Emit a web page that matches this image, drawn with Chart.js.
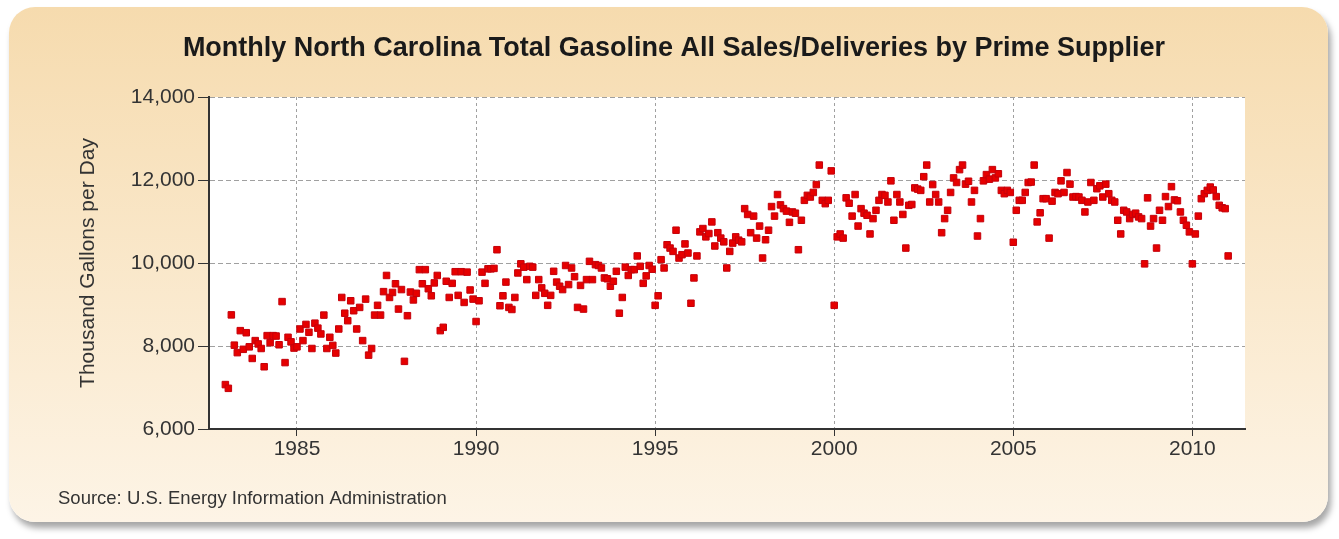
<!DOCTYPE html>
<html>
<head>
<meta charset="utf-8">
<script src="https://cdn.jsdelivr.net/npm/chart.js@4"></script>
<style>
  html, body { margin: 0; padding: 0; background: #fff; }
  #wrap { position: relative; width: 1339px; height: 539px; }
  #card {
    position: absolute; left: 9px; top: 7px; width: 1319px; height: 515px;
    border-radius: 26px;
    background: linear-gradient(#f6dbae, #fdf4e6);
    box-shadow: 3px 6px 6px rgba(0, 0, 0, 0.35);
  }
  #chart { position: absolute; left: 0; top: 0; }
</style>
</head>
<body>
<div id="wrap">
  <div id="card"></div>
  <canvas id="chart" width="1339" height="539"></canvas>
</div>
<script>
// ===== DATOS =====
const startYear = 1983;
const chartTitle = 'Monthly North Carolina Total Gasoline All Sales/Deliveries by Prime Supplier';
const yAxisTitle = 'Thousand Gallons per Day';
const sourceText = 'Source: U.S. Energy Information Administration';

const xTicks = [1985, 1990, 1995, 2000, 2005, 2010];
const yTicks = [6000, 8000, 10000, 12000, 14000];

// meses desde enero de 1983
const sales1980s = [
  7070, 6980, 8750, 8020, 7840, 8370, 7920, 8320, 7980, 7700, 8130, 8050,
  7940, 7500, 8250, 8080, 8250, 8240, 8030, 9070, 7600, 8210, 8100, 7950,
  7980, 8410, 8130, 8520, 8330, 7940, 8550, 8430, 8290, 8745, 7940, 8210,
  8015, 7830, 8410, 9170, 8790, 8610, 9090, 8850, 8410, 8930, 8130, 9130,
  7780, 7940, 8745, 8980, 8745, 9310, 9700, 9170, 9290, 9500, 8890, 9360,
  7630, 8730, 9300, 9110, 9270, 9840, 9500, 9840, 9380, 9210, 9520, 9700,
  8370, 8450, 9560, 9170, 9510, 9790, 9220, 9790, 9050, 9780, 9350, 9130
];
const sales1990s = [
  8590, 9090, 9780, 9510, 9860, 9860, 9870, 10320, 8970, 9210, 9540, 8930,
  8880, 9170, 9760, 9980, 9900, 9600, 9920, 9900, 9220, 9600, 9400, 9270,
  8980, 9220, 9800, 9540, 9440, 9360, 9940, 9480, 9880, 9670, 8930, 9460,
  8890, 9600, 10040, 9600, 9960, 9940, 9880, 9640, 9620, 9440, 9560, 9800,
  8790, 9170, 9900, 9700, 9840, 9840, 10170, 9920, 9510, 9690, 9940, 9850,
  8980, 9210, 10080, 9880, 10440, 10360, 10280, 10790, 10120, 10200, 10460, 10240,
  9030, 9640, 10170, 10750, 10830, 10630, 10710, 10990, 10410, 10730, 10600, 10510,
  9880, 10280, 10480, 10630, 10550, 10510, 11310, 11170, 10730, 11130, 10600, 10890,
  10120, 10560, 10790, 11360, 11130, 11650, 11400, 11310, 11250, 10980, 11230, 11200,
  10320, 11030, 11510, 11630, 11590, 11700, 11890, 12360, 11510, 11430, 11510, 12220
];
const sales2000s = [
  8980, 10630, 10700, 10600, 11570, 11440, 11130, 11650, 10890, 11310, 11200, 11150,
  10700, 11070, 11270, 11510, 11650, 11630, 11470, 11980, 11030, 11650, 11470, 11170,
  10360, 11390, 11410, 11810, 11780, 11750, 12080, 12360, 11470, 11890, 11650, 11470,
  10730, 11070, 11270, 11700, 12050, 11940, 12250, 12360, 11900, 11970, 11470, 11750,
  10650, 11070, 11980, 12130, 12020, 12250, 12050, 12150, 11750, 11670, 11750, 11700,
  10500, 11270, 11510, 11510, 11700, 11940, 11950, 12360, 10990, 11210, 11550, 11550,
  10600, 11490, 11700, 11670, 11980, 11700, 12180, 11900, 11590, 11600, 11590, 11510,
  11230, 11470, 11940, 11510, 11790, 11860, 11590, 11900, 11670, 11510, 11470, 11030,
  10700, 11270, 11230, 11070, 11170, 11200, 11110, 11070, 9980, 11570, 10890, 11070,
  10360, 11270, 11030, 11600, 11360, 11840, 11520, 11500, 11230, 11030, 10910, 10750,
  9980, 10700, 11130, 11550, 11670, 11750, 11830, 11760, 11600, 11390, 11330, 11310,
  10170
];

// ===== PUNTOS =====
const allSales = sales1980s.concat(sales1990s, sales2000s);
const points = allSales.map(function(v, i) {
  return { x: startYear + i / 12, y: v };
});

const FONT = "'Liberation Sans', Arial, sans-serif";

// fondo blanco del área de trazado + título y fuente
const decorPlugin = {
  id: 'decor',
  beforeDraw: function(chart) {
    const a = chart.chartArea;
    const ctx = chart.ctx;
    ctx.save();
    ctx.fillStyle = '#ffffff';
    ctx.fillRect(a.left, a.top, a.right - a.left, a.bottom - a.top);
    ctx.restore();
  },
  afterDraw: function(chart) {
    const ctx = chart.ctx;
    ctx.save();
    ctx.fillStyle = '#1a1a1a';
    ctx.font = 'bold 27px ' + FONT;
    ctx.textAlign = 'center';
    ctx.textBaseline = 'middle';
    ctx.fillText(chartTitle, 674, 49);
    ctx.fillStyle = '#333';
    ctx.font = '18.5px ' + FONT;
    ctx.textAlign = 'left';
    ctx.fillText(sourceText, 58, 499);
    ctx.restore();
  }
};

new Chart(document.getElementById('chart'), {
  type: 'scatter',
  data: {
    datasets: [{
      data: points,
      pointStyle: 'rect',
      pointRadius: 4.6,
      backgroundColor: '#e60000',
      borderColor: '#c4000a',
      borderWidth: 1
    }]
  },
  options: {
    responsive: false,
    animation: false,
    devicePixelRatio: 1,
    layout: { padding: { left: 76, right: 94, top: 97, bottom: 68 } },
    plugins: { legend: { display: false }, tooltip: { enabled: false } },
    scales: {
      x: {
        type: 'linear',
        min: 1982.543,
        max: 2011.47,
        afterFit: function(scale) { scale.height = 42; },
        afterBuildTicks: function(scale) {
          scale.ticks = xTicks.map(function(v) { return { value: v }; });
        },
        ticks: {
          color: '#333',
          font: { family: FONT, size: 21 },
          padding: 1,
          maxRotation: 0,
          callback: function(v) { return String(v); }
        },
        grid: { color: '#a0a0a0', tickColor: '#333', tickLength: 7, tickBorderDash: [] },
        border: { color: '#333', width: 2, dash: [3, 3] }
      },
      y: {
        min: 6000,
        max: 14000,
        afterFit: function(scale) { scale.width = 133; },
        afterBuildTicks: function(scale) {
          scale.ticks = yTicks.map(function(v) { return { value: v }; });
        },
        ticks: {
          color: '#333',
          font: { family: FONT, size: 21 },
          padding: 3,
          callback: function(v) { return v.toLocaleString('en-US'); }
        },
        title: {
          display: true,
          text: yAxisTitle,
          color: '#333',
          font: { family: FONT, size: 21 },
          padding: { top: 0, bottom: 0 }
        },
        grid: { color: '#a0a0a0', tickColor: '#333', tickLength: 11, tickBorderDash: [] },
        border: { color: '#333', width: 2, dash: [5, 3] }
      }
    }
  },
  plugins: [decorPlugin]
});
</script>
</body>
</html>
